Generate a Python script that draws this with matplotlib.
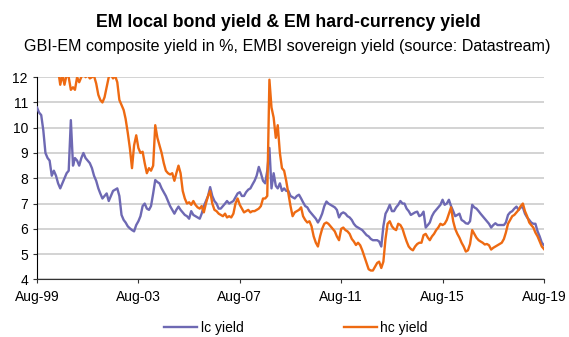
import numpy as np
import pandas as pd
import matplotlib
matplotlib.use("Agg")
import matplotlib.pyplot as plt
import matplotlib.dates as mdates

plt.rcParams["font.family"] = ["Liberation Sans", "DejaVu Sans"]

# monthly, Aug-99 .. Aug-19
dates = pd.date_range("1999-08-31", periods=241, freq="ME")

lc_yield = [
    10.8, 10.6, 10.5, 9.9, 9.0, 8.8, 8.7, 8.1, 8.3, 8.1, 7.8, 7.6,
    7.8, 8.0, 8.2, 8.3, 10.3, 8.5, 8.8, 8.7, 8.5, 8.8, 9.0, 8.8,
    8.7, 8.6, 8.4, 8.1, 7.9, 7.6, 7.4, 7.2, 7.3, 7.4, 7.1, 7.3,
    7.5, 7.55, 7.6, 7.3, 6.55, 6.35, 6.25, 6.1, 6.02, 5.95, 5.9, 6.15,
    6.3, 6.5, 6.9, 7.0, 6.8, 6.75, 6.9, 7.4, 7.93, 7.85, 7.8, 7.6,
    7.45, 7.3, 7.1, 6.9, 6.75, 6.6, 6.75, 6.88, 6.75, 6.65, 6.55, 6.5,
    6.4, 6.7, 6.55, 6.5, 6.45, 6.4, 6.6, 6.9, 7.1, 7.3, 7.65, 7.3,
    7.1, 7.0, 6.8, 6.8, 6.9, 7.0, 7.1, 7.0, 7.05, 7.1, 7.25, 7.4,
    7.45, 7.3, 7.3, 7.45, 7.55, 7.6, 7.75, 7.9, 8.1, 8.45, 8.2, 7.9,
    7.8, 8.3, 9.2, 7.6, 8.2, 7.7, 7.6, 7.8, 7.5, 7.6, 7.5, 7.5,
    7.3, 7.25, 7.2, 7.3, 7.35, 7.2, 7.05, 6.9, 6.85, 6.7, 6.6, 6.5,
    6.4, 6.25, 6.4, 6.6, 6.9, 7.08, 7.0, 6.95, 6.9, 6.85, 6.75, 6.45,
    6.6, 6.65, 6.6, 6.5, 6.45, 6.35, 6.2, 6.1, 6.05, 6.0, 5.95, 5.85,
    5.75, 5.7, 5.6, 5.55, 5.55, 5.55, 5.5, 5.3, 6.1, 6.6, 6.75, 6.95,
    6.7, 6.7, 6.85, 6.95, 7.1, 7.0, 7.0, 6.8, 6.7, 6.55, 6.6, 6.65,
    6.68, 6.5, 6.55, 6.68, 6.05, 6.15, 6.25, 6.5, 6.65, 6.75, 6.85, 6.95,
    7.15, 6.95, 7.0, 7.15, 6.9, 6.7, 6.5, 6.55, 6.6, 6.35, 6.3, 6.22,
    6.2, 6.3, 6.95, 6.85, 6.8, 6.7, 6.6, 6.5, 6.4, 6.3, 6.2, 6.05,
    6.15, 6.22, 6.15, 6.15, 6.15, 6.15, 6.25, 6.55, 6.65, 6.7, 6.8, 6.88,
    6.75, 6.85, 6.85, 6.6, 6.45, 6.35, 6.25, 6.2, 6.2, 5.9, 5.7, 5.45,
    5.35,
]

hc_yield = [
    13.6, 13.4, 13.2, 12.9, 12.8, 12.6, 12.9, 12.7, 12.5, 12.6, 12.3, 11.7,
    12.1, 11.7, 12.1, 12.0, 11.5, 11.6, 11.5, 12.0, 11.8, 12.0, 12.2, 12.0,
    12.1, 11.95, 12.0, 12.05, 11.75, 11.3, 11.1, 11.0, 11.2, 11.6, 12.0, 12.1,
    11.95, 12.05, 11.8, 11.1, 10.9, 10.7, 10.35, 9.8, 9.2, 8.4, 9.3, 9.7,
    9.2, 9.0, 9.05, 8.6, 8.2, 8.4, 8.3, 8.5, 10.1, 9.6, 9.3, 9.0,
    8.6, 8.3, 8.2, 8.15, 8.2, 7.9, 8.2, 8.5, 8.2, 7.5, 7.2, 7.0,
    7.05, 6.95, 7.1, 6.95, 6.85, 6.8, 6.9, 6.65, 7.0, 7.3, 7.5, 7.0,
    6.75, 6.7, 6.6, 6.55, 6.5, 6.6, 6.45, 6.5, 6.45, 6.6, 7.0, 7.2,
    6.95, 6.8, 6.65, 6.7, 6.75, 6.65, 6.7, 6.7, 6.75, 6.8, 6.9, 7.2,
    7.2, 7.3, 11.9, 10.8, 10.4, 9.6, 10.1, 9.0, 8.4, 8.3, 7.9, 7.4,
    6.9, 6.5, 6.65, 6.7, 6.75, 6.85, 6.5, 6.35, 6.25, 6.3, 6.1, 5.7,
    5.45, 5.3, 5.7, 6.0, 6.2, 6.25, 6.2, 6.1, 6.0, 5.9, 5.7, 5.55,
    6.0, 6.05, 5.95, 5.9, 5.8, 5.6, 5.5, 5.36, 5.45, 5.35, 5.15, 4.9,
    4.65, 4.4, 4.35, 4.35, 4.5, 4.65, 4.7, 4.45, 4.7, 5.6, 6.2, 6.3,
    6.1, 6.0, 5.95, 6.2, 6.15, 6.0, 5.75, 5.5, 5.3, 5.2, 5.15, 5.3,
    5.4, 5.45, 5.45, 5.75, 5.8, 5.65, 5.55, 5.7, 5.8, 5.95, 6.05, 6.2,
    6.15, 6.2, 6.35, 6.6, 6.85, 6.3, 6.0, 5.8, 5.65, 5.45, 5.3, 5.1,
    5.15, 5.4, 5.95, 5.8, 5.65, 5.55, 5.5, 5.45, 5.38, 5.4, 5.35, 5.18,
    5.25, 5.3, 5.35, 5.4, 5.45, 5.6, 5.85, 6.2, 6.35, 6.5, 6.55, 6.65,
    6.75, 6.9, 7.0, 6.7, 6.5, 6.25, 6.15, 6.05, 5.85, 5.7, 5.5, 5.3,
    5.2,
]

y_ticks = [4, 5, 6, 7, 8, 9, 10, 11, 12]
x_tick_years = [1999, 2003, 2007, 2011, 2015, 2019]

lc_color = "#6e69b3"
hc_color = "#ee6a12"

fig = plt.figure(figsize=(5.69, 3.37), dpi=100)
ax = fig.add_axes([0.065, 0.171, 0.891, 0.600])

ax.plot(dates, lc_yield, color=lc_color, lw=1.7, label="lc yield", zorder=3)
ax.plot(dates, hc_yield, color=hc_color, lw=1.7, label="hc yield", zorder=3)

ax.set_ylim(4, 12)
ax.set_yticks(y_ticks)
ax.set_xlim(dates[0], dates[-1])
ax.set_xticks([pd.Timestamp(f"{y}-08-31") for y in x_tick_years])
ax.xaxis.set_major_formatter(mdates.DateFormatter("%b-%y"))

ax.grid(axis="y", color="#cccccc", lw=1.2)
ax.set_axisbelow(True)
for s in ["top", "right"]:
    ax.spines[s].set_visible(False)
ax.spines["left"].set_color("black")
ax.spines["bottom"].set_color("#333333")
ax.tick_params(axis="both", labelsize=10, length=3, color="#333333")
ax.tick_params(axis="x", pad=5)

fig.text(0.507, 0.932, "EM local bond yield & EM hard-currency yield",
         ha="center", va="center", fontsize=12.8, fontweight="bold")
fig.text(0.505, 0.862, "GBI-EM composite yield in %, EMBI sovereign yield (source: Datastream)",
         ha="center", va="center", fontsize=11.6)

fig.legend(loc="center", bbox_to_anchor=(0.52, 0.027), ncol=2, frameon=False,
           fontsize=10, handlelength=2.4, columnspacing=7.2, handletextpad=0.25)

fig.savefig("out.png", dpi=100)
